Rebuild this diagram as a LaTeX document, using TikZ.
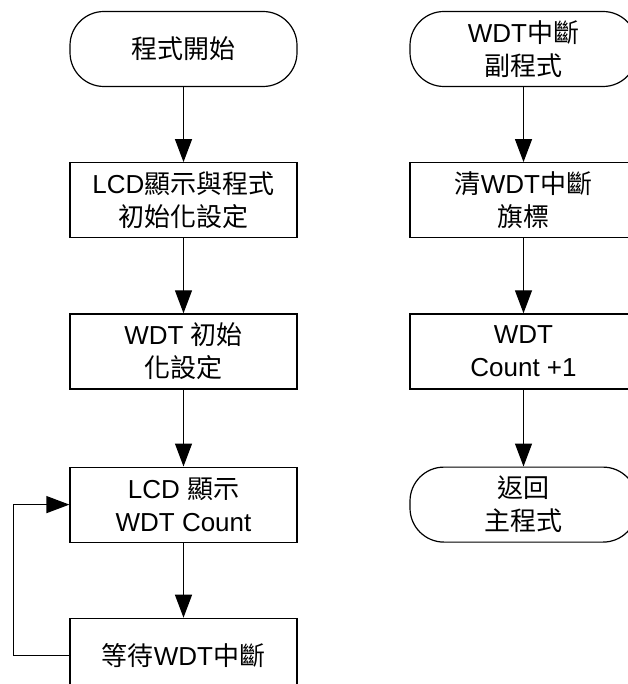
\documentclass[tikz,border=0pt]{standalone}
\usepackage{fontspec}
\setmainfont{Liberation Sans}
\newfontfamily\cjk{Noto Sans CJK TC}
\usepackage{tikz}
\usetikzlibrary{arrows.meta,positioning}
\tikzstyle{process} =[rectangle, draw, line width=1.2pt,
                      minimum width=227pt, minimum height=75pt,
                      inner sep=2pt, align=center,
                      font=\fontsize{26}{33}\selectfont]
\tikzstyle{terminal}=[process, rounded corners=34pt]
\tikzstyle{flow}    =[line width=1.2pt,
                      -{Triangle[length=23pt,width=17pt]}]

\begin{document}
\begin{tikzpicture}[x=1pt,y=1pt,node distance=75pt]
    \useasboundingbox (0,0) rectangle (627,-684);

    % main program
    \node (start)[terminal] at (183.5,-49) {{\cjk 程式開始}};
    \node (lcdinit)[process, below=of start]
        {LCD{\cjk 顯示與程式}\\{\cjk 初始化設定}};
    \node (wdtinit)[process, below=of lcdinit]
        {WDT {\cjk 初始}\\{\cjk 化設定}};
    \node (show)[process, below=77pt of wdtinit]
        {LCD {\cjk 顯示}\\WDT Count};
    \node (wait)[process, below=of show]
        {{\cjk 等待}WDT{\cjk 中斷}};

    % interrupt routine
    \node (isr)[terminal] at (523.5,-49)
        {WDT{\cjk 中斷}\\{\cjk 副程式}};
    \node (clear)[process, below=of isr]
        {{\cjk 清}WDT{\cjk 中斷}\\{\cjk 旗標}};
    \node (count)[process, below=of clear]
        {WDT\\Count +1};
    \node (back)[terminal, below=77pt of count]
        {{\cjk 返回}\\{\cjk 主程式}};

    \foreach \i/\j in
        {start/lcdinit,lcdinit/wdtinit,wdtinit/show,show/wait,
         isr/clear,clear/count,count/back}
        \draw [flow] (\i) -- (\j);

    \coordinate (loop) at ([xshift=-56pt]wait.west);
    \draw [flow] (wait.west) -- (loop) |- (show.west);
\end{tikzpicture}
\end{document}
